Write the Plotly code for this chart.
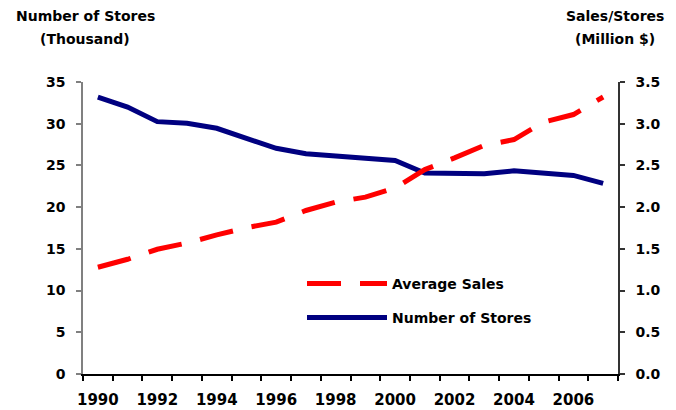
import plotly.graph_objects as go

years = list(range(1990, 2008))
num_stores = [33.2, 32.0, 30.25, 30.05, 29.45, 28.2, 27.05, 26.4, 26.1, 25.8,
              25.6, 24.1, 24.1, 24.0, 24.35, 24.0, 23.8, 22.85]
avg_sales = [1.28, 1.375, 1.495, 1.57, 1.667, 1.754, 1.82, 1.96, 2.06, 2.12,
             2.23, 2.45, 2.59, 2.74, 2.81, 3.02, 3.11, 3.32]
xtick_years = list(range(1990, 2007, 2))

FONT = "DejaVu Sans"
L, R, T, B = 83, 58, 82, 36
W, H = 676, 410
PW, PH = W - L - R, H - T - B

def px_x(p):
    return (p - L) / PW

def px_y(p):
    return (H - B - p) / PH

fig = go.Figure()
fig.add_trace(go.Scatter(
    x=years, y=num_stores, name="Number of Stores", mode="lines",
    line=dict(color="#000080", width=5), yaxis="y", legend="legend2",
    hoverinfo="skip"))
fig.add_trace(go.Scatter(
    x=years, y=avg_sales, name="Average Sales", mode="lines",
    line=dict(color="#FF0000", width=5, dash="34px,19px"), yaxis="y2", legend="legend",
    hoverinfo="skip"))

tickfont = dict(family=FONT, size=14, color="black", weight="bold")
legfont = dict(family=FONT, size=14, color="black", weight="bold")

fig.update_layout(
    template="none",
    width=W, height=H,
    margin=dict(l=L, r=R, t=T, b=B, pad=0),
    paper_bgcolor="white", plot_bgcolor="white",
    showlegend=True,
    xaxis=dict(
        range=[1989.5, 2007.5], tickmode="array", tickvals=xtick_years,
        ticktext=[str(y) for y in xtick_years], ticks="", showgrid=False,
        showline=True, linecolor="black", linewidth=1.5, zeroline=False,
        automargin=False,
        tickfont=dict(family=FONT, size=15, color="black", weight="bold"),
        ticklabelstandoff=11,
        minor=dict(tick0=1989.5, dtick=1, ticks="outside", ticklen=5,
                   tickcolor="black", tickwidth=1.5, showgrid=False),
    ),
    yaxis=dict(
        range=[0, 35], dtick=5, tick0=0, ticks="outside", ticklen=5,
        tickcolor="#808080", tickwidth=1.5, showgrid=False, zeroline=False,
        showline=True, linecolor="#808080", linewidth=1.5, tickfont=tickfont,
        ticklabelstandoff=8, automargin=False,
    ),
    yaxis2=dict(
        range=[0, 3.5], dtick=0.5, tick0=0, tickformat=".1f", overlaying="y",
        side="right", ticks="outside", ticklen=5, tickcolor="#333333",
        tickwidth=1.5, showgrid=False, zeroline=False, showline=True,
        linecolor="#333333", linewidth=1.5, tickfont=tickfont,
        ticklabelstandoff=8, automargin=False,
    ),
    legend=dict(x=px_x(302), y=px_y(284), xanchor="left", yanchor="middle",
                bgcolor="rgba(0,0,0,0)", borderwidth=0, itemwidth=80, font=legfont),
    legend2=dict(x=px_x(302), y=px_y(318), xanchor="left", yanchor="middle",
                 bgcolor="rgba(0,0,0,0)", borderwidth=0, itemwidth=80, font=legfont),
)

ann_font = dict(family=FONT, size=14, color="black", weight="bold")
for text, cx, cy in [("Number of Stores", 85, 16), ("(Thousand)", 85, 39),
                     ("Sales/Stores", 615, 16), ("(Million $)", 615, 39)]:
    fig.add_annotation(text=text, x=px_x(cx), y=px_y(cy), xref="paper", yref="paper",
                       xanchor="center", yanchor="middle", showarrow=False, font=ann_font)

fig.write_html("out.html", config={"displayModeBar": False},
               post_script="document.body.style.margin='0';document.body.style.padding='0';")
